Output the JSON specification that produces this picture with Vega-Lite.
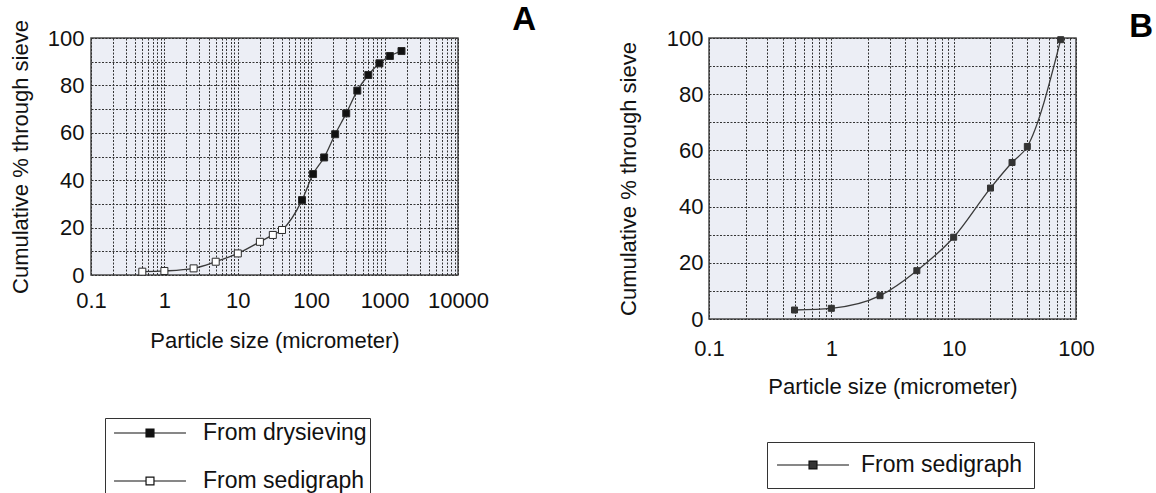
{
  "$schema": "https://vega.github.io/schema/vega-lite/v6.json",
  "background": "white",
  "padding": {"left": 8, "top": 2, "right": 0, "bottom": 0},
  "spacing": 79,
  "config": {
    "font": "Liberation Sans",
    "view": {"fill": "#eceef5", "stroke": "#4a4a4a", "strokeWidth": 1.5},
    "axis": {
      "domain": false, "ticks": false,
      "labelFont": "Liberation Sans", "labelFontSize": 22, "labelColor": "#111",
      "titleFont": "Liberation Sans", "titleFontSize": 22, "titleFontWeight": "normal", "titleColor": "#111",
      "gridColor": "#333333", "gridDash": [2, 1.5], "gridWidth": 1, "gridOpacity": 1,
      "labelOverlap": false, "labelBound": false, "labelFlush": false
    },
    "title": {"fontSize": 33, "fontWeight": "bold", "font": "Liberation Sans", "color": "#000", "anchor": "end", "frame": "group", "offset": -17}
  },
  "resolve": {"scale": {"fill": "independent"}, "legend": {"fill": "independent"}},
  "hconcat": [
    {
      "width": 367,
      "height": 237,
      "title": {"text": "A", "dx": 78},
      "data": {"values": [
        {"size": 0.5, "pct": 1.4, "method": "From sedigraph"},
        {"size": 1, "pct": 1.7, "method": "From sedigraph"},
        {"size": 2.5, "pct": 2.8, "method": "From sedigraph"},
        {"size": 5, "pct": 5.6, "method": "From sedigraph"},
        {"size": 10, "pct": 9.1, "method": "From sedigraph"},
        {"size": 20, "pct": 14.0, "method": "From sedigraph"},
        {"size": 30, "pct": 16.9, "method": "From sedigraph"},
        {"size": 40, "pct": 19.0, "method": "From sedigraph"},
        {"size": 75, "pct": 31.6, "method": "From drysieving"},
        {"size": 106, "pct": 42.6, "method": "From drysieving"},
        {"size": 150, "pct": 49.6, "method": "From drysieving"},
        {"size": 212, "pct": 59.4, "method": "From drysieving"},
        {"size": 300, "pct": 68.2, "method": "From drysieving"},
        {"size": 425, "pct": 77.8, "method": "From drysieving"},
        {"size": 600, "pct": 84.4, "method": "From drysieving"},
        {"size": 850, "pct": 89.3, "method": "From drysieving"},
        {"size": 1180, "pct": 92.4, "method": "From drysieving"},
        {"size": 1700, "pct": 94.5, "method": "From drysieving"}
      ]},
      "encoding": {
        "x": {
          "field": "size", "type": "quantitative",
          "scale": {"type": "log", "domain": [0.1, 10000], "nice": false},
          "axis": {
            "title": "Particle size (micrometer)",
            "values": [0.1,0.2,0.3,0.4,0.5,0.6,0.7,0.8,0.9,1,2,3,4,5,6,7,8,9,10,20,30,40,50,60,70,80,90,100,200,300,400,500,600,700,800,900,1000,2000,3000,4000,5000,6000,7000,8000,9000,10000],
            "labelExpr": "indexof([0.1,1,10,100,1000,10000], datum.value) >= 0 ? format(datum.value, '~g') : ''",
            "labelPadding": 15, "titlePadding": 19
          }
        },
        "y": {
          "field": "pct", "type": "quantitative",
          "scale": {"domain": [0, 100], "nice": false},
          "axis": {
            "title": "Cumulative % through sieve",
            "values": [0,10,20,30,40,50,60,70,80,90,100],
            "labelExpr": "datum.value % 20 === 0 ? datum.label : ''",
            "labelPadding": 7, "titlePadding": 15
          }
        }
      },
      "layer": [
        {
          "mark": {"type": "line", "interpolate": "monotone", "color": "#3a3a3a", "strokeWidth": 1.3},
          "encoding": {"order": {"field": "size", "type": "quantitative"}}
        },
        {
          "mark": {"type": "square", "size": 49, "stroke": "#2a2a2a", "strokeWidth": 1, "opacity": 1},
          "encoding": {
            "fill": {
              "field": "method", "type": "nominal",
              "scale": {"domain": ["From drysieving", "From sedigraph"], "range": ["#111111", "#ffffff"]},
              "legend": {
                "title": null, "orient": "none", "legendX": 14, "legendY": 380,
                "symbolType": "M-3.27,0H-0.36M0.36,0H3.27M-0.36,-0.36H0.36V0.36H-0.36Z",
                "symbolSize": 484, "symbolStrokeColor": "#111", "symbolStrokeWidth": 1.2,
                "labelFont": "Liberation Sans", "labelFontSize": 23, "labelColor": "#111", "labelLimit": 400,
                "labelOffset": 41, "padding": 3, "rowPadding": 24, "symbolOffset": 30,
                "strokeColor": "#333", "fillColor": "#ffffff"
              }
            }
          }
        }
      ]
    },
    {
      "width": 367,
      "height": 281,
      "title": {"text": "B", "dx": 77},
      "data": {"values": [
        {"size": 0.5, "pct": 3.2, "method": "From sedigraph"},
        {"size": 1, "pct": 3.8, "method": "From sedigraph"},
        {"size": 2.5, "pct": 8.3, "method": "From sedigraph"},
        {"size": 5, "pct": 17.2, "method": "From sedigraph"},
        {"size": 10, "pct": 29.1, "method": "From sedigraph"},
        {"size": 20, "pct": 46.6, "method": "From sedigraph"},
        {"size": 30, "pct": 55.7, "method": "From sedigraph"},
        {"size": 40, "pct": 61.4, "method": "From sedigraph"},
        {"size": 75, "pct": 99.4, "method": "From sedigraph"}
      ]},
      "encoding": {
        "x": {
          "field": "size", "type": "quantitative",
          "scale": {"type": "log", "domain": [0.1, 100], "nice": false},
          "axis": {
            "title": "Particle size (micrometer)",
            "values": [0.1,0.2,0.3,0.4,0.5,0.6,0.7,0.8,0.9,1,2,3,4,5,6,7,8,9,10,20,30,40,50,60,70,80,90,100],
            "labelExpr": "indexof([0.1,1,10,100], datum.value) >= 0 ? format(datum.value, '~g') : ''",
            "labelPadding": 19, "titlePadding": 17
          }
        },
        "y": {
          "field": "pct", "type": "quantitative",
          "scale": {"domain": [0, 100], "nice": false},
          "axis": {
            "title": "Cumulative % through sieve",
            "values": [0,10,20,30,40,50,60,70,80,90,100],
            "labelExpr": "datum.value % 20 === 0 ? datum.label : ''",
            "labelPadding": 6, "titlePadding": 26
          }
        }
      },
      "layer": [
        {
          "mark": {"type": "line", "interpolate": "monotone", "color": "#3a3a3a", "strokeWidth": 1.3},
          "encoding": {"order": {"field": "size", "type": "quantitative"}}
        },
        {
          "mark": {"type": "square", "size": 36, "stroke": "#333", "strokeWidth": 1, "opacity": 1},
          "encoding": {
            "fill": {
              "field": "method", "type": "nominal",
              "scale": {"domain": ["From sedigraph"], "range": ["#333333"]},
              "legend": {
                "title": null, "orient": "none", "legendX": 58, "legendY": 404,
                "symbolType": "M-3.27,0H-0.36M0.36,0H3.27M-0.36,-0.36H0.36V0.36H-0.36Z",
                "symbolSize": 484, "symbolStrokeColor": "#111", "symbolStrokeWidth": 1.2, "symbolFillColor": "#111",
                "labelFont": "Liberation Sans", "labelFontSize": 23, "labelColor": "#111", "labelLimit": 400,
                "labelOffset": 36, "padding": 11, "symbolOffset": 23,
                "strokeColor": "#333", "fillColor": "#ffffff"
              }
            }
          }
        }
      ]
    }
  ]
}
